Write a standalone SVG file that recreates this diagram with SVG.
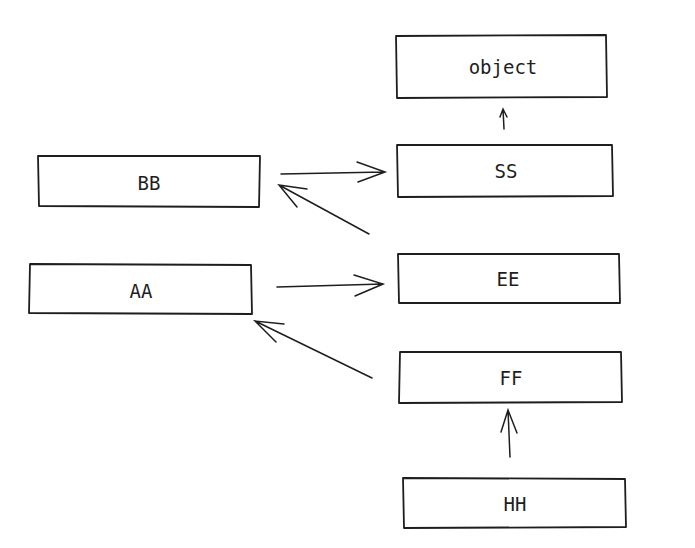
<svg xmlns="http://www.w3.org/2000/svg" width="695" height="548" viewBox="0 0 695 548">
<style>
.box{fill:#fff;stroke:#1e1e1e;stroke-width:1.8;stroke-linejoin:round}
.lbl{font-family:"DejaVu Sans Mono","Liberation Mono",monospace;font-size:19px;fill:#1e1e1e;text-anchor:middle;dominant-baseline:central}
.edge{fill:none;stroke:#1e1e1e;stroke-width:1.5;stroke-linecap:round}
</style>
<rect width="695" height="548" fill="#fff"/>
<g id="node-object"><path class="box" d="M396 36 L606 35 L607 97 L397 98 Z"/><text class="lbl" x="503" y="67">object</text></g>
<g id="node-SS"><path class="box" d="M397 145 L612 145 L613 196 L398 197 Z"/><text class="lbl" x="506" y="171">SS</text></g>
<g id="node-BB"><path class="box" d="M38 156 L260 156 L259 207 L39 206 Z"/><text class="lbl" x="149" y="183">BB</text></g>
<g id="node-EE"><path class="box" d="M398 254 L619 254 L620 303 L399 303 Z"/><text class="lbl" x="508" y="279">EE</text></g>
<g id="node-AA"><path class="box" d="M30 264 L251 265 L252 314 L29 313 Z"/><text class="lbl" x="141" y="291">AA</text></g>
<g id="node-FF"><path class="box" d="M400 352 L621 352 L622 402 L399 403 Z"/><text class="lbl" x="511" y="378">FF</text></g>
<g id="node-HH"><path class="box" d="M403 478 L625 479 L626 527 L404 528 Z"/><text class="lbl" x="515" y="504">HH</text></g>
<g id="connectors">
<path class="edge" d="M504 129 L503 109 M500 117 L503 109 L507 117"/>
<path class="edge" d="M281 174 L385 172 M357 162 L385 172 L358 182"/>
<path class="edge" d="M369 234 L279 185 M307 189 L279 185 L297 207"/>
<path class="edge" d="M277 287 L383 284 M354 275 L383 284 L355 296"/>
<path class="edge" d="M372 378 L255 321 M284 324 L255 321 L276 342"/>
<path class="edge" d="M510 457 L508 410 M501 432 L508 410 L517 433"/>
</g>
</svg>
